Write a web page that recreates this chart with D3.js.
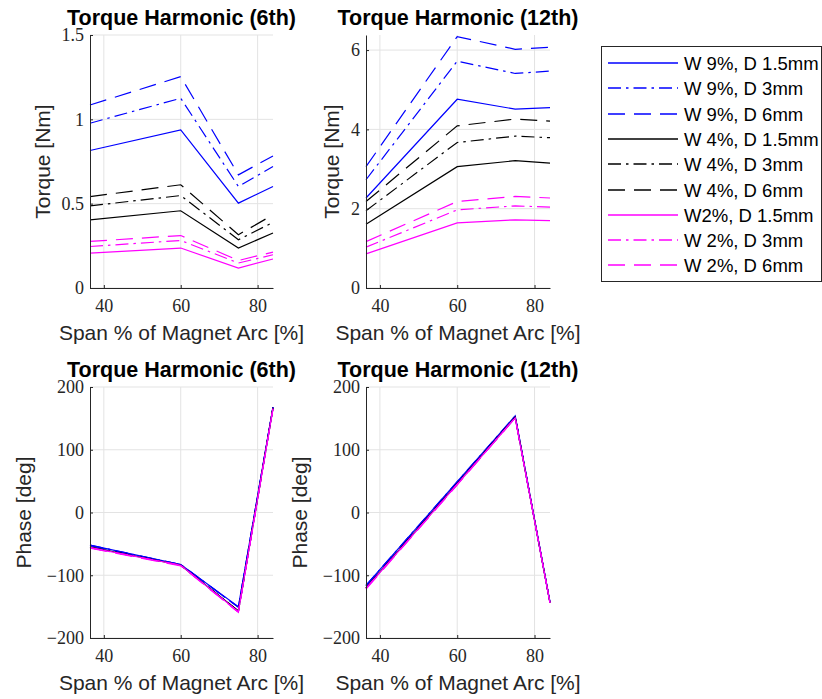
<!DOCTYPE html>
<html lang="en">
<head>
<meta charset="UTF-8">
<style>
  body { margin: 0; background: #fff; }
  svg { display: block; }
  .tick text { font-family: "Liberation Serif", "DejaVu Serif", "Times New Roman", serif !important; }
</style>
</head>
<body>
<script src="https://d3js.org/d3.v7.min.js"></script>
<script>
// ---- data ----
var spanPct = [36.4, 60, 75, 84]
var seriesNames = ['W 9%, D 1.5mm', 'W 9%, D 3mm', 'W 9%, D 6mm',
                   'W 4%, D 1.5mm', 'W 4%, D 3mm', 'W 4%, D 6mm',
                   'W2%, D 1.5mm', 'W 2%, D 3mm', 'W 2%, D 6mm']

// torque magnitude, 6th harmonic [Nm]
var torque6 = [
  [0.815, 0.937, 0.503, 0.602],
  [0.977, 1.125, 0.602, 0.720],
  [1.085, 1.253, 0.671, 0.783],
  [0.404, 0.458, 0.237, 0.326],
  [0.487, 0.548, 0.286, 0.389],
  [0.542, 0.612, 0.316, 0.434],
  [0.207, 0.237, 0.118, 0.172],
  [0.246, 0.282, 0.148, 0.197],
  [0.276, 0.311, 0.163, 0.213]
]
// torque magnitude, 12th harmonic [Nm]
var torque12 = [
  [2.27, 4.76, 4.51, 4.55],
  [2.73, 5.72, 5.41, 5.47],
  [3.06, 6.34, 6.02, 6.07],
  [1.61, 3.06, 3.21, 3.15],
  [1.95, 3.67, 3.83, 3.79],
  [2.18, 4.09, 4.26, 4.21],
  [0.86, 1.64, 1.72, 1.70],
  [1.03, 1.97, 2.07, 2.04],
  [1.17, 2.18, 2.31, 2.27]
]
// phase, 6th harmonic [deg]
var phase6 = [
  [-52, -83, -150, 168],
  [-52, -83, -151, 168],
  [-53, -83, -151, 168],
  [-55, -84, -157, 167],
  [-55, -84, -157, 167],
  [-56, -84, -158, 166],
  [-56, -84, -158, 166],
  [-56, -84, -159, 166],
  [-57, -85, -159, 165]
]
// phase, 12th harmonic [deg]
var phase12 = [
  [-116, 49, 154, -143],
  [-116, 49, 154, -143],
  [-117, 48, 153, -143],
  [-120, 46, 152, -144],
  [-120, 46, 152, -144],
  [-120, 45, 151, -144],
  [-121, 45, 151, -144],
  [-121, 45, 151, -144],
  [-122, 44, 151, -144]
]
var xTicks = [40, 60, 80]

// ---- styles ----
var colors = ['#0000ff', '#0000ff', '#0000ff', '#000000', '#000000', '#000000', '#ff00ff', '#ff00ff', '#ff00ff']
var dashes = [null, '13,5,2.5,5', '17,9', null, '13,5,2.5,5', '17,9', null, '13,5,2.5,5', '17,9']
var axisColor = '#262626'
var gridColor = '#e3e3e3'
var sansFont = '"Liberation Sans", Arial, Helvetica, sans-serif'
var serifFont = '"Liberation Serif", "DejaVu Serif", serif'

var svg = d3.select('body').append('svg')
  .attr('width', 822)
  .attr('height', 699)

var panels = [
  { x0: 90, x1: 273, y0: 35, y1: 288, yDom: [0, 1.5], yTicks: [0, 0.5, 1, 1.5],
    title: 'Torque Harmonic (6th)', ylab: 'Torque [Nm]', ylabOff: 40, data: torque6 },
  { x0: 366, x1: 550, y0: 35, y1: 288, yDom: [0, 6.38], yTicks: [0, 2, 4, 6],
    title: 'Torque Harmonic (12th)', ylab: 'Torque [Nm]', ylabOff: 27, data: torque12 },
  { x0: 90, x1: 273, y0: 387, y1: 638, yDom: [-200, 200], yTicks: [-200, -100, 0, 100, 200],
    title: 'Torque Harmonic (6th)', ylab: 'Phase [deg]', ylabOff: 59, data: phase6 },
  { x0: 366, x1: 550, y0: 387, y1: 638, yDom: [-200, 200], yTicks: [-200, -100, 0, 100, 200],
    title: 'Torque Harmonic (12th)', ylab: 'Phase [deg]', ylabOff: 59, data: phase12 }
]

var fmt = function (v) { return String(v).replace('-', '\u2212') }

panels.forEach(function (p) {
  var x = d3.scaleLinear().domain([36.4, 84]).range([p.x0, p.x1])
  var y = d3.scaleLinear().domain(p.yDom).range([p.y1, p.y0])
  var g = svg.append('g')

  // grid
  g.selectAll('.gx').data(xTicks).enter().append('line')
    .attr('x1', function (d) { return x(d) }).attr('x2', function (d) { return x(d) })
    .attr('y1', p.y0).attr('y2', p.y1)
    .attr('stroke', gridColor).attr('stroke-width', 1)
  g.selectAll('.gy').data(p.yTicks).enter().append('line')
    .attr('x1', p.x0).attr('x2', p.x1)
    .attr('y1', function (d) { return y(d) }).attr('y2', function (d) { return y(d) })
    .attr('stroke', gridColor).attr('stroke-width', 1)

  // lines
  var line = d3.line()
    .x(function (d, i) { return x(spanPct[i]) })
    .y(function (d) { return y(d) })
  p.data.forEach(function (vals, k) {
    g.append('path')
      .attr('d', line(vals))
      .attr('fill', 'none')
      .attr('stroke', colors[k])
      .attr('stroke-width', 1.2)
      .attr('stroke-dasharray', dashes[k])
  })

  // axes
  var xa = g.append('g').attr('transform', 'translate(0,' + p.y1 + ')')
    .call(d3.axisBottom(x).tickValues(xTicks).tickSize(-3).tickSizeOuter(0).tickPadding(11).tickFormat(fmt))
  var ya = g.append('g').attr('transform', 'translate(' + p.x0 + ',0)')
    .call(d3.axisLeft(y).tickValues(p.yTicks).tickSize(-3).tickSizeOuter(0).tickPadding(6).tickFormat(fmt))
  ;[xa, ya].forEach(function (a) {
    a.attr('font-family', serifFont).attr('font-size', 18)
    a.select('.domain').attr('stroke', axisColor)
    a.selectAll('.tick line').attr('stroke', axisColor)
    a.selectAll('.tick text').attr('fill', axisColor)
  })

  // title
  svg.append('text')
    .attr('x', (p.x0 + p.x1) / 2).attr('y', p.y0 - 10)
    .attr('text-anchor', 'middle')
    .style('font-family', sansFont).style('font-size', '21.5px').style('font-weight', 'bold')
    .attr('fill', '#000')
    .text(p.title)

  // axis labels
  svg.append('text')
    .attr('x', (p.x0 + p.x1) / 2).attr('y', p.y1 + 52)
    .attr('text-anchor', 'middle')
    .style('font-family', sansFont).style('font-size', '21px')
    .attr('fill', axisColor)
    .text('Span % of Magnet Arc [%]')
  svg.append('text')
    .attr('transform', 'translate(' + (p.x0 - p.ylabOff) + ',' + ((p.y0 + p.y1) / 2) + ') rotate(-90)')
    .attr('text-anchor', 'middle')
    .style('font-family', sansFont).style('font-size', '21px')
    .attr('fill', axisColor)
    .text(p.ylab)
})

// legend
var leg = svg.append('g')
leg.append('rect')
  .attr('x', 601.5).attr('y', 46.5).attr('width', 220).attr('height', 235)
  .attr('fill', '#fff').attr('stroke', axisColor).attr('stroke-width', 1)
seriesNames.forEach(function (name, k) {
  var ly = Math.round(63 + k * 25.3)
  leg.append('line')
    .attr('x1', 608).attr('x2', 678).attr('y1', ly).attr('y2', ly)
    .attr('stroke', colors[k]).attr('stroke-width', 1.4)
    .attr('stroke-dasharray', dashes[k])
  leg.append('text')
    .attr('x', 684).attr('y', ly + 7)
    .style('font-family', sansFont).style('font-size', '18.5px')
    .attr('fill', '#000')
    .text(name)
})
</script>
</body>
</html>
